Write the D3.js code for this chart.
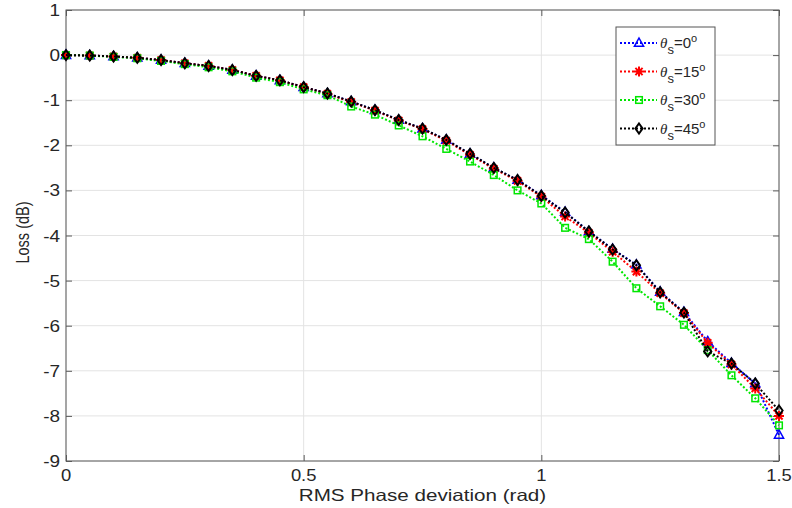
<!DOCTYPE html>
<html>
<head>
<meta charset="utf-8">
<script src="https://cdn.jsdelivr.net/npm/d3@7"></script>
<style>
  html, body { margin: 0; padding: 0; background: #fff; }
  svg { display: block; font-family: "Liberation Sans", Arial, Helvetica, sans-serif; }
</style>
</head>
<body>
<svg id="chart" width="792" height="508"></svg>
<script>
// RMS phase deviation (rad)
const phaseDev = [0, 0.05, 0.1, 0.15, 0.2, 0.25, 0.3, 0.35, 0.4, 0.45, 0.5,
  0.55, 0.6, 0.65, 0.7, 0.75, 0.8, 0.85, 0.9, 0.95, 1.0,
  1.05, 1.1, 1.15, 1.2, 1.25, 1.3, 1.35, 1.4, 1.45, 1.5];

// Loss (dB) for each steering angle
const loss0 = [0, -0.01, -0.03, -0.06, -0.11, -0.18, -0.24, -0.33, -0.46, -0.56, -0.71,
  -0.85, -1.03, -1.22, -1.44, -1.63, -1.88, -2.19, -2.5, -2.77, -3.11,
  -3.48, -3.91, -4.3, -4.65, -5.25, -5.7, -6.35, -6.83, -7.28, -8.42];
const loss15 = [0, -0.01, -0.03, -0.06, -0.11, -0.18, -0.24, -0.33, -0.46, -0.56, -0.71,
  -0.86, -1.04, -1.23, -1.45, -1.64, -1.9, -2.21, -2.52, -2.79, -3.14,
  -3.58, -3.94, -4.36, -4.8, -5.28, -5.72, -6.38, -6.86, -7.39, -8.0];
const loss30 = [0, -0.01, -0.04, -0.07, -0.13, -0.2, -0.27, -0.36, -0.5, -0.6, -0.76,
  -0.89, -1.14, -1.32, -1.56, -1.8, -2.08, -2.36, -2.66, -3.0, -3.29,
  -3.83, -4.08, -4.58, -5.17, -5.57, -5.98, -6.54, -7.1, -7.61, -8.21];
const loss45 = [0, -0.01, -0.03, -0.06, -0.11, -0.18, -0.24, -0.33, -0.46, -0.56, -0.71,
  -0.85, -1.03, -1.22, -1.44, -1.63, -1.88, -2.19, -2.5, -2.77, -3.12,
  -3.49, -3.91, -4.31, -4.66, -5.26, -5.71, -6.57, -6.84, -7.28, -7.88];

const angles = ["0", "15", "30", "45"];
const seriesLoss = [loss0, loss15, loss30, loss45];
const seriesColor = ["#0000ff", "#ff0000", "#00e600", "#000000"];
const seriesMarker = ["triangle", "asterisk", "square", "diamond"];

const xTicks = [0, 0.5, 1, 1.5];
const yTicks = [1, 0, -1, -2, -3, -4, -5, -6, -7, -8, -9];

const svg = d3.select("#chart");
const plot = { left: 66, right: 779, top: 10, bottom: 461 };

const x = d3.scaleLinear().domain([0, 1.5]).range([plot.left, plot.right]);
const y = d3.scaleLinear().domain([-9, 1]).range([plot.bottom, plot.top]);

// grid
const grid = svg.append("g");
grid.selectAll("line.gx").data(xTicks).join("line")
  .attr("x1", d => x(d)).attr("x2", d => x(d))
  .attr("y1", plot.top).attr("y2", plot.bottom)
  .attr("stroke", "#e3e3e3").attr("stroke-width", 1);
grid.selectAll("line.gy").data(yTicks).join("line")
  .attr("x1", plot.left).attr("x2", plot.right)
  .attr("y1", d => y(d)).attr("y2", d => y(d))
  .attr("stroke", "#e3e3e3").attr("stroke-width", 1);

// inward ticks on all four sides, labels drawn separately (slightly wide face)
const axisColor = "#5a5a5a";
function styleAxis(g) {
  g.select(".domain").remove();
  g.selectAll(".tick line").attr("stroke", axisColor);
  g.selectAll(".tick text").remove();
}
svg.append("g").attr("transform", `translate(0,${plot.bottom})`)
  .call(d3.axisBottom(x).tickValues(xTicks).tickSizeInner(-6)).call(styleAxis);
svg.append("g").attr("transform", `translate(${plot.left},0)`)
  .call(d3.axisLeft(y).tickValues(yTicks).tickSizeInner(-6)).call(styleAxis);
svg.append("g").attr("transform", `translate(0,${plot.top})`)
  .call(d3.axisTop(x).tickValues(xTicks).tickSizeInner(-6)).call(styleAxis);
svg.append("g").attr("transform", `translate(${plot.right},0)`)
  .call(d3.axisRight(y).tickValues(yTicks).tickSizeInner(-6)).call(styleAxis);

svg.append("rect")
  .attr("x", plot.left).attr("y", plot.top)
  .attr("width", plot.right - plot.left).attr("height", plot.bottom - plot.top)
  .attr("fill", "none").attr("stroke", axisColor).attr("stroke-width", 1);

const textColor = "#262626";
const fmt = d => String(d);   // plain hyphen for negatives

svg.append("g").selectAll("text").data(xTicks).join("text")
  .attr("transform", d => `translate(${x(d)},${plot.bottom + 20}) scale(1.15,1)`)
  .attr("text-anchor", "middle").attr("fill", textColor)
  .style("font-size", "16px").text(fmt);
svg.append("g").selectAll("text").data(yTicks).join("text")
  .attr("transform", d => `translate(${plot.left - 6},${y(d) + 6}) scale(1.15,1)`)
  .attr("text-anchor", "end").attr("fill", textColor)
  .style("font-size", "16.5px").text(fmt);

// axis labels
svg.append("text")
  .attr("transform", `translate(${(plot.left + plot.right) / 2},501) scale(1.25,1)`)
  .attr("text-anchor", "middle").attr("fill", textColor)
  .style("font-size", "16.5px")
  .text("RMS Phase deviation (rad)");
svg.append("text")
  .attr("transform", `translate(29,${(plot.top + plot.bottom) / 2 - 3}) scale(1.25,1) rotate(-90)`)
  .attr("text-anchor", "middle").attr("fill", textColor)
  .style("font-size", "14.5px")
  .text("Loss (dB)");

// marker drawing
function drawMarker(g, kind, color) {
  if (kind === "triangle") {
    g.append("path").attr("d", "M0,-5L4.6,3.3L-4.6,3.3Z")
      .attr("fill", "none").attr("stroke", color).attr("stroke-width", 1.5);
  } else if (kind === "asterisk") {
    g.append("path").attr("d", "M-5,0L5,0M0,-5L0,5M-3.6,-3.6L3.6,3.6M-3.6,3.6L3.6,-3.6")
      .attr("fill", "none").attr("stroke", color).attr("stroke-width", 2);
  } else if (kind === "square") {
    g.append("rect").attr("x", -3.3).attr("y", -3.3).attr("width", 6.6).attr("height", 6.6)
      .attr("fill", "none").attr("stroke", color).attr("stroke-width", 1.5);
  } else if (kind === "diamond") {
    g.append("path").attr("d", "M0,-5L3.6,0L0,5L-3.6,0Z")
      .attr("fill", "none").attr("stroke", color).attr("stroke-width", 2);
  }
}

const line = d3.line().x(d => x(d[0])).y(d => y(d[1]));

seriesLoss.forEach((vals, i) => {
  const pts = phaseDev.map((p, j) => [p, vals[j]]);
  const g = svg.append("g");
  g.append("path").datum(pts).attr("d", line)
    .attr("fill", "none").attr("stroke", seriesColor[i])
    .attr("stroke-width", 2).attr("stroke-dasharray", "2,2");
  g.selectAll("g.m").data(pts).join("g")
    .attr("transform", d => `translate(${x(d[0])},${y(d[1])})`)
    .each(function () { drawMarker(d3.select(this), seriesMarker[i], seriesColor[i]); });
});

// legend
const legend = svg.append("g");
legend.append("rect")
  .attr("x", 616).attr("y", 27).attr("width", 99).attr("height", 118)
  .attr("fill", "#fff").attr("stroke", "#555").attr("stroke-width", 1);
angles.forEach((a, i) => {
  const cy = 43 + i * 28.5;
  const row = legend.append("g");
  row.append("line").attr("x1", 620).attr("x2", 657).attr("y1", cy).attr("y2", cy)
    .attr("stroke", seriesColor[i]).attr("stroke-width", 2).attr("stroke-dasharray", "2,2");
  drawMarker(row.append("g").attr("transform", `translate(639,${cy})`), seriesMarker[i], seriesColor[i]);
  const t = row.append("text").attr("x", 660).attr("y", cy + 5)
    .attr("fill", textColor).style("font-size", "15px");
  t.append("tspan").style("font-style", "italic").style("font-family", "'Liberation Serif', serif").text("θ");
  t.append("tspan").attr("dy", 6).style("font-size", "13px").text("s");
  t.append("tspan").attr("dy", -6).text("=" + a);
  t.append("tspan").attr("dy", -6).style("font-size", "11px").text("o");
});
</script>
</body>
</html>
